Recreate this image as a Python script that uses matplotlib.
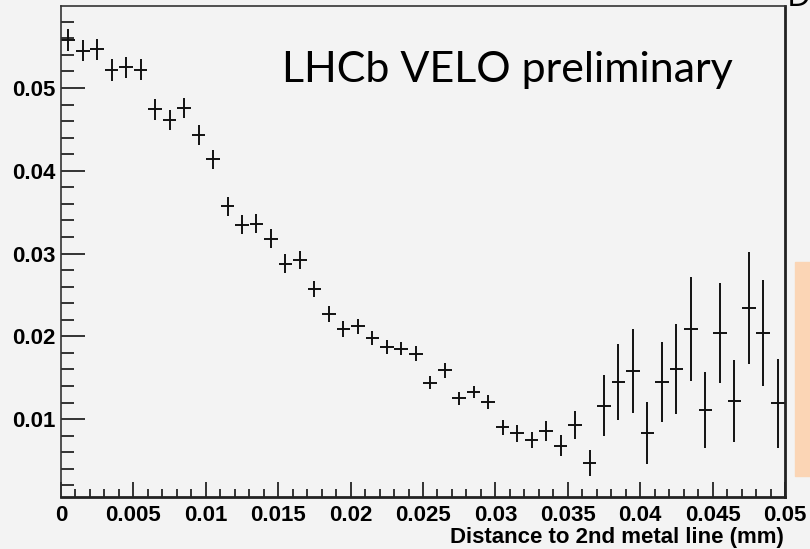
# Efficiency vs distance to 2nd metal line (LHCb VELO preliminary)
import numpy as np
import matplotlib.pyplot as plt
from matplotlib.ticker import MultipleLocator, FormatStrFormatter

# DATA
# bin centres (mm), 50 bins of width 0.001
bin_width = 0.001
bin_centres = [0.0005 + bin_width * i for i in range(50)]

values = [0.0558, 0.0545, 0.0547, 0.0522, 0.0525, 0.0522, 0.0474, 0.0461, 0.0476, 0.0443,
          0.0414, 0.0357, 0.0335, 0.0336, 0.0318, 0.0288, 0.0292, 0.0257, 0.0227, 0.0209,
          0.0212, 0.0198, 0.0187, 0.0185, 0.0179, 0.0144, 0.0159, 0.0125, 0.0133, 0.0121,
          0.0090, 0.0083, 0.0075, 0.0086, 0.0068, 0.0093, 0.0047, 0.0116, 0.0145, 0.0158,
          0.0083, 0.0145, 0.0161, 0.0209, 0.0111, 0.0204, 0.0122, 0.0234, 0.0204, 0.0119]

errors = [0.0013, 0.00127, 0.00127, 0.00135, 0.00127, 0.00127, 0.00125, 0.0012, 0.0012, 0.0012,
          0.00115, 0.00117, 0.00115, 0.00115, 0.00112, 0.0011, 0.0011, 0.00099, 0.00095, 0.00095,
          0.00092, 0.00085, 0.00082, 0.0008, 0.00088, 0.0008, 0.00087, 0.00075, 0.00076, 0.00087,
          0.00093, 0.001, 0.001, 0.00118, 0.00124, 0.00167, 0.0016, 0.00369, 0.00462, 0.00504,
          0.00375, 0.00483, 0.00544, 0.00625, 0.00459, 0.00608, 0.005, 0.00675, 0.00643, 0.00534]

x_label = "Distance to 2nd metal line (mm)"
label_text = "LHCb VELO preliminary"

# Figure
bg = "#f3f3f3"
fig = plt.figure(figsize=(8.1, 5.49), dpi=100, facecolor=bg)
ax = fig.add_axes([61/810, 1 - 497/549, (785-61)/810, (497-6)/549])
ax.set_facecolor(bg)

# Histogram points with error bars
ax.errorbar(bin_centres, values, yerr=errors, xerr=bin_width * 0.47,
            fmt="none", ecolor="#111111", elinewidth=1.4, capsize=0)

ax.set_xlim(0, 0.05)
ax.set_ylim(0.0006, 0.0599)

# Ticks, ROOT style
ax.xaxis.set_major_locator(MultipleLocator(0.005))
ax.xaxis.set_minor_locator(MultipleLocator(0.001))
ax.yaxis.set_major_locator(MultipleLocator(0.01))
ax.yaxis.set_minor_locator(MultipleLocator(0.002))
ax.tick_params(axis="x", which="major", direction="in", length=11, width=1.1, pad=6)
ax.tick_params(axis="x", which="minor", direction="in", length=5.5, width=1.1)
ax.tick_params(axis="y", which="major", direction="in", length=17, width=1.1, pad=4)
ax.tick_params(axis="y", which="minor", direction="in", length=9, width=1.1)

def fmt_x(v, pos):
    if abs(v) < 1e-12:
        return "0"
    return ("%.3f" % v).rstrip("0")

ax.xaxis.set_major_formatter(plt.FuncFormatter(fmt_x))
ax.yaxis.set_major_formatter(FormatStrFormatter("%.2f"))

for lab in ax.get_xticklabels() + ax.get_yticklabels():
    lab.set_fontfamily("Liberation Sans")
    lab.set_fontweight("bold")
    lab.set_fontsize(16)

for side in ["left", "top"]:
    ax.spines[side].set_linewidth(1.2)
    ax.spines[side].set_color("#333333")
for side in ["bottom", "right"]:
    ax.spines[side].set_linewidth(2.0)
    ax.spines[side].set_color("#222222")

# x axis title, right aligned under the axis
fig.text(784/810, 1 - 537/549, x_label, fontfamily="Liberation Sans", fontweight="bold",
         fontsize=16, ha="right", va="center")

# Annotation text
ax.text(0.617, 0.870, label_text, transform=ax.transAxes, ha="center", va="center",
        fontsize=31, fontfamily="Lato")

# peach box on the right edge and cut off text at top right
fig.patches.append(plt.Rectangle((795/810, 1 - 476/549), 20/810, (476-262)/549,
                                 transform=fig.transFigure, color="#fbd5b5", zorder=0))
fig.text(787/810, 1 - 6/549, "De", fontsize=24, fontfamily="Open Sans",
         va="baseline", ha="left")

fig.savefig("out.png", dpi=100, facecolor=bg)
